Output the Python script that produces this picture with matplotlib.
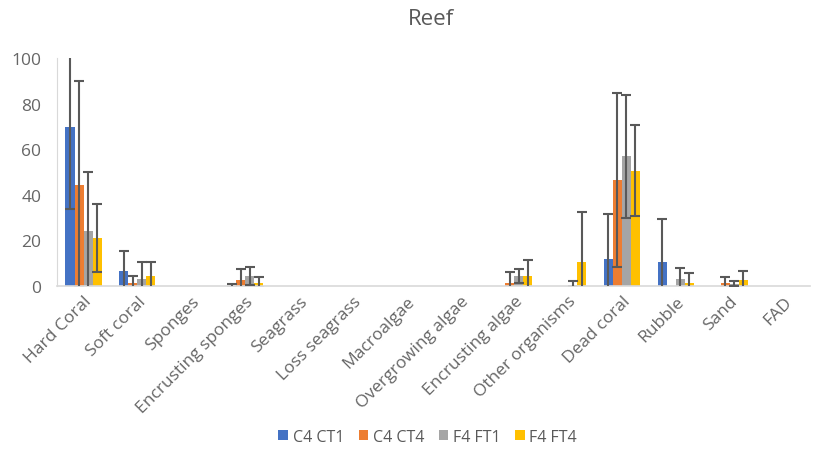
import matplotlib.pyplot as plt
import numpy as np

plt.rcParams['font.family'] = ['Open Sans', 'DejaVu Sans']

categories = ["Hard Coral", "Soft coral", "Sponges", "Encrusting sponges", "Seagrass",
              "Loss seagrass", "Macroalgae", "Overgrowing algae", "Encrusting algae",
              "Other organisms", "Dead coral", "Rubble", "Sand", "FAD"]
series = ["C4 CT1", "C4 CT4", "F4 FT1", "F4 FT4"]

ct1 = [69.6, 6.4, 0, 0, 0, 0, 0, 0, 0, 0, 11.8, 10.5, 0, 0]
ct4 = [44.4, 1.5, 0, 2.5, 0, 0, 0, 0, 1.5, 0, 46.5, 0, 1.5, 0]
ft1 = [24.0, 3.0, 0, 4.4, 0, 0, 0, 0, 4.5, 0.5, 57.0, 3.0, 1.0, 0]
ft4 = [21.0, 4.4, 0, 1.5, 0, 0, 0, 0, 4.5, 10.5, 50.6, 1.5, 2.5, 0]

ct1_err = [36, 8.8, 0, 1, 0, 0, 0, 0, 0, 0, 20, 19, 0, 0]
ct4_err = [45.4, 3, 0, 5, 0, 0, 0, 0, 4.5, 0, 38.2, 0, 2.5, 0]
ft1_err = [26, 7.7, 0, 3.8, 0, 0, 0, 0, 3, 1.5, 27, 5, 1, 0]
ft4_err = [15, 6.3, 0, 2.5, 0, 0, 0, 0, 7, 22, 20, 4, 4, 0]

colors = ["#4472C4", "#ED7D31", "#A5A5A5", "#FFC000"]
values = [ct1, ct4, ft1, ft4]
errors = [ct1_err, ct4_err, ft1_err, ft4_err]

fig = plt.figure(figsize=(8.21, 4.52), dpi=100)
ax = fig.add_axes([0.069, 0.365, 0.918, 0.504])

x = np.arange(len(categories))
w = 0.168
for i in range(4):
    pos = x + (i - 1.5) * w
    ax.bar(pos, values[i], w, color=colors[i], label=series[i], zorder=2)
    e = np.array(errors[i])
    m = e > 0
    ax.errorbar(pos[m], np.array(values[i])[m], yerr=e[m], fmt='none',
                ecolor="#595959", elinewidth=1.5, capsize=3.5, capthick=1.5, zorder=3)

ax.set_xlim(-0.5, len(categories) - 0.5)
ax.set_ylim(0, 100)
ax.set_yticks([0, 20, 40, 60, 80, 100])
ax.set_xticks(x)
ax.set_xticklabels(categories, rotation=45, ha='right', rotation_mode='anchor')
ax.tick_params(axis='both', length=0, colors="#666666", labelsize=12.5)
ax.tick_params(axis='x', pad=5)
ax.tick_params(axis='y', pad=11)
for s in ["top", "right"]:
    ax.spines[s].set_visible(False)
ax.spines["left"].set_color("#D9D9D9")
ax.spines["bottom"].set_color("#D9D9D9")
ax.spines["bottom"].set_linewidth(1.2)

fig.suptitle("Reef", x=0.525, y=0.98, fontsize=16, color="#595959")
fig.legend(loc="lower center", ncol=4, bbox_to_anchor=(0.521, -0.018), frameon=False,
           fontsize=11.5, labelcolor="#595959", handlelength=0.6, handleheight=0.6,
           handletextpad=0.3, columnspacing=0.9)

fig.savefig("out.png", dpi=100)
